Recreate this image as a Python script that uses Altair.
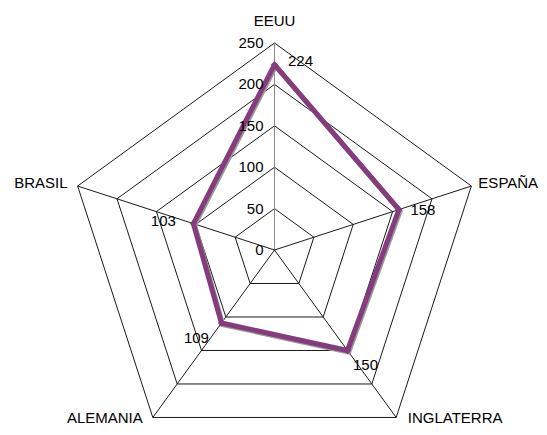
import altair as alt
import pandas as pd

categories = ["EEUU", "ESPAÑA", "INGLATERRA", "ALEMANIA", "BRASIL"]
values = [224, 158, 150, 109, 103]
ticks = [0, 50, 100, 150, 200, 250]
max_value = 250

# ---- layout / style ----
W, H = 531, 419
R_PX = 207
CX, CY = 266.5, 242
k = R_PX / max_value
xdom = [-CX / k, (W - CX) / k]
ydom = [-(H - CY) / k, CY / k]
n = len(categories)
FONT = "Liberation Sans"
FS = 15
PURPLE = "#843C7C"

xs = alt.Scale(domain=xdom, nice=False, zero=False)
ys = alt.Scale(domain=ydom, nice=False, zero=False)

ANG = "2*PI*(datum.idx % {n})/{n}".format(n=n)


def X(f):
    return alt.X(f, type="quantitative", scale=xs, axis=None)


def Y(f):
    return alt.Y(f, type="quantitative", scale=ys, axis=None)


# grid pentagons
grid_df = pd.DataFrame(
    [{"level": t, "idx": i} for t in ticks[1:] for i in range(n + 1)]
)
grid = alt.Chart(grid_df).transform_calculate(
    x="datum.level*sin(" + ANG + ")", y="datum.level*cos(" + ANG + ")"
).mark_line(stroke="#1a1a1a", strokeWidth=1).encode(
    x=X("x"), y=Y("y"), detail="level:N", order="idx:Q"
)

# spokes
spoke_df = pd.DataFrame({"category": categories, "idx": list(range(n))})
spokes = alt.Chart(spoke_df).transform_calculate(
    x0="0", y0="0",
    x="%d*sin(" % max_value + ANG + ")", y="%d*cos(" % max_value + ANG + ")"
).mark_rule(strokeWidth=1).encode(
    x=X("x0"), y=Y("y0"), x2="x:Q", y2="y:Q",
    color=alt.condition("datum.idx == 0", alt.value("#8a8a8a"), alt.value("#1a1a1a")),
)

# data series (closed)
series_df = pd.DataFrame({
    "category": categories + [categories[0]],
    "value": values + [values[0]],
    "idx": list(range(n)) + [n],
})
base = alt.Chart(series_df).transform_calculate(
    x="datum.value*sin(" + ANG + ")", y="datum.value*cos(" + ANG + ")"
)
shadow = base.transform_calculate(
    xs_="datum.x + %f" % (1.2 / k), ys_="datum.y - %f" % (1.5 / k)
).mark_line(stroke="#9a9a9a", strokeWidth=5, strokeJoin="miter").encode(
    x=X("xs_"), y=Y("ys_"), order="idx:Q"
)
line = base.mark_line(stroke=PURPLE, strokeWidth=5, strokeJoin="miter").encode(
    x=X("x"), y=Y("y"), order="idx:Q"
)
pts = base.transform_filter("datum.idx < %d" % n).mark_point(
    shape="diamond", filled=True, size=50, color=PURPLE, opacity=1
).encode(x=X("x"), y=Y("y"))

# value labels
val_off = {
    "EEUU": (26, -4),
    "ESPAÑA": (24, 0),
    "INGLATERRA": (18, 15),
    "ALEMANIA": (-25, 15),
    "BRASIL": (-30, -3),
}
val_layers = []
for c in categories:
    dx, dy = val_off[c]
    val_layers.append(
        base.transform_filter(alt.datum.category == c).transform_filter("datum.idx < %d" % n)
        .mark_text(font=FONT, fontSize=FS, color="black", align="center",
                   baseline="middle", dx=dx, dy=dy)
        .encode(x=X("x"), y=Y("y"), text="value:Q")
    )

# tick labels
tick_df = pd.DataFrame({"level": ticks})
tick_text = alt.Chart(tick_df).transform_calculate(x0="0").mark_text(
    font=FONT, fontSize=FS, color="black", align="right", baseline="middle", dx=-11
).encode(x=X("x0"), y=Y("level"), text="level:Q")

# category labels
cat_off = {
    "EEUU": (0, -22, "center"),
    "ESPAÑA": (7, -3, "left"),
    "INGLATERRA": (59, 1, "center"),
    "ALEMANIA": (-48, 1, "center"),
    "BRASIL": (-10, -3, "right"),
}
cat_base = alt.Chart(spoke_df).transform_calculate(
    x="%d*sin(" % max_value + ANG + ")", y="%d*cos(" % max_value + ANG + ")"
)
cat_layers = []
for c in categories:
    dx, dy, al = cat_off[c]
    cat_layers.append(
        cat_base.transform_filter(alt.datum.category == c)
        .mark_text(font=FONT, fontSize=FS, color="black", align=al,
                   baseline="middle", dx=dx, dy=dy)
        .encode(x=X("x"), y=Y("y"), text="category:N")
    )

chart = alt.layer(
    grid, spokes, shadow, line, pts, tick_text, *val_layers, *cat_layers
).properties(
    width=W, height=H, autosize=alt.AutoSizeParams(type="none"), padding=0,
    background="white",
).configure_view(stroke=None)

chart.save("out.html", embed_options={"renderer": "svg", "actions": False})
